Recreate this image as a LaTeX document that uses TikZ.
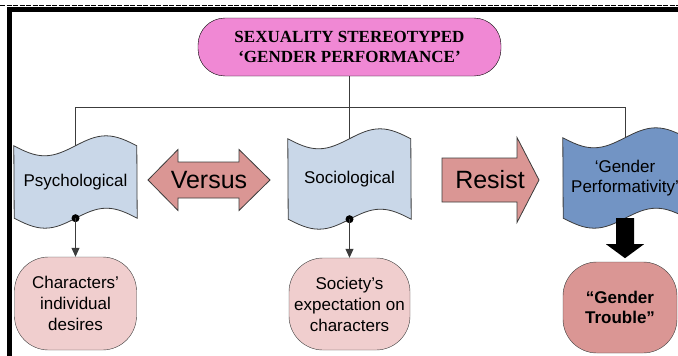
\documentclass[tikz,border=0pt]{standalone}
\usepackage{fontspec}
\setmainfont{Liberation Sans}
\newfontfamily\titlefont{Liberation Serif}
\usetikzlibrary{arrows.meta,backgrounds}
\definecolor{tapeblue}{RGB}{201,215,232}
\definecolor{perfblue}{RGB}{114,148,196}
\definecolor{titlepink}{RGB}{240,136,212}
\definecolor{salmon}{RGB}{218,150,148}
\definecolor{blush}{RGB}{240,206,206}
\definecolor{edgegray}{RGB}{60,60,60}
\tikzset{%
  tapetext/.style={inner sep=0pt, font=\fontsize{17}{20}\selectfont, align=center},% text on a wavy box
  outcome/.style={draw=edgegray, rectangle, rounded corners=34pt, inner sep=0pt,
    font=\fontsize{17}{21}\selectfont, align=center},% rounded box at the bottom
  link/.style={draw=edgegray, line width=0.8pt},% tree lines and outlines
  block/.style={draw=edgegray, fill=salmon, line width=0.8pt},% versus / resist arrows
  blocktext/.style={inner sep=0pt, font=\fontsize{25}{25}\selectfont}
}
\newcommand*{\waveamp}{10}
\newcommand*{\tape}[3]{% wavy box behind node #1, width #2, fill #3
  \draw[link, fill=#3] (#1.north west)
    sin ++(#2/4,\waveamp) cos ++(#2/4,-\waveamp) sin ++(#2/4,-\waveamp) cos ++(#2/4,\waveamp)
    -- (#1.south east)
    sin ++(-#2/4,-\waveamp) cos ++(-#2/4,\waveamp) sin ++(-#2/4,\waveamp) cos ++(-#2/4,-\waveamp)
    -- cycle;}

\begin{document}
\begin{tikzpicture}[x=1pt, y=-1pt]
\useasboundingbox (0,0) rectangle (678,356);
% frame
\draw[line width=1.5pt, dash pattern=on 5pt off 1.5pt] (0,5.5) -- (678,5.5);
\draw[line width=5pt] (9.5,356) -- (9.5,9.5) -- (678,9.5);

\node[draw, fill=titlepink, rounded corners=27pt, minimum width=303pt, minimum height=58pt,
  font=\titlefont\bfseries\fontsize{17}{20}\selectfont, align=center] (title) at (349.5,47)
  {SEXUALITY STEREOTYPED\\‘GENDER PERFORMANCE’};

\node[tapetext, minimum width=123pt, minimum height=72pt] (psych) at (75.5,182) {Psychological};
\node[tapetext, minimum width=123pt, minimum height=80pt] (socio) at (349.5,179) {Sociological};
\node[tapetext, minimum width=124pt, minimum height=80pt] (perf) at (625,178) {‘Gender\\Performativity’};
\begin{scope}[on background layer]
  \tape{psych}{123}{tapeblue}
  \tape{socio}{123}{tapeblue}
  \tape{perf}{124}{perfblue}
\end{scope}

\node[outcome, fill=blush, minimum width=122pt, minimum height=93pt] (desires) at (75.5,303.5)
  {Characters’\\individual\\desires};
\node[outcome, fill=blush, minimum width=121pt, minimum height=92pt] (expect) at (349.5,304)
  {Society’s\\expectation on\\characters};
\node[outcome, fill=salmon, minimum width=114pt, minimum height=91pt, font=\fontsize{17}{20}\selectfont\bfseries]
  (trouble) at (620,307.5) {“Gender\\Trouble”};

% versus / resist
\node[blocktext] (versus) at (209,180) {Versus};
\node[blocktext] (resist) at (490,180) {Resist};
\begin{scope}[on background layer]
  \draw[block, shift={(versus.center)}] (-61,0) -- (-31,-30.5) -- (-31,-18) -- (30,-18) -- (30,-30.5)
    -- (61,0) -- (30,30.5) -- (30,18) -- (-31,18) -- (-31,30.5) -- cycle;
  \draw[block, shift={(resist.center)}] (-48,-22) -- (27,-22) -- (27,-42.5) -- (49,0)
    -- (27,42.5) -- (27,22) -- (-48,22) -- cycle;
\end{scope}

% tree
\draw[link] (title.south) -- ++(0,31) coordinate (fork);
\draw[link] (psych.north) |- (fork) -| (perf.north);
\draw[link] (fork) -- (socio.north);

\fill[black] (psych.south) circle (4pt);
\fill[black] (socio.south) circle (4pt);
\draw[link, -{Triangle[length=9pt,width=8pt]}] (psych.south) -- (desires.north);
\draw[link, -{Triangle[length=9pt,width=8pt]}] (socio.south) -- (expect.north);

\fill[black, shift={(perf.south)}] (-9,0) -- (-9,26) -- (-19,26) -- (0,40) -- (19,26) -- (9,26) -- (9,0) -- cycle;
\end{tikzpicture}
\end{document}
